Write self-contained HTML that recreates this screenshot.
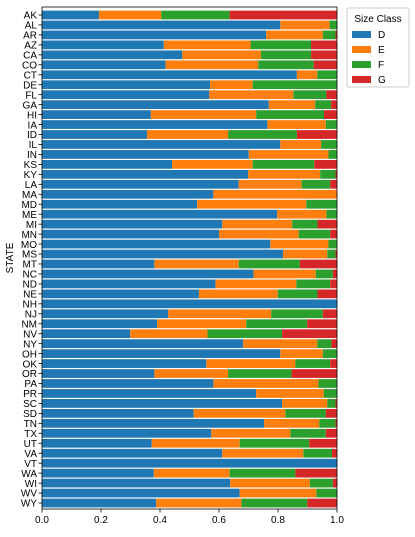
<!DOCTYPE html>
<html><head><meta charset="utf-8"><style>
body{margin:0;background:#fff;font-family:"Liberation Sans","DejaVu Sans",sans-serif}
svg text{font-family:"Liberation Sans","DejaVu Sans",sans-serif}
</style></head><body>
<svg id="chart" width="415" height="532"></svg>
<script>
const states=["AK","AL","AR","AZ","CA","CO","CT","DE","FL","GA","HI","IA","ID","IL","IN","KS","KY","LA","MA","MD","ME","MI","MN","MO","MS","MT","NC","ND","NE","NH","NJ","NM","NV","NY","OH","OK","OR","PA","PR","SC","SD","TN","TX","UT","VA","VT","WA","WI","WV","WY"];
const seriesD=[.193,.808,.76,.413,.475,.419,.864,.57,.567,.769,.369,.764,.356,.808,.701,.441,.699,.667,.581,.526,.797,.611,.6,.774,.817,.381,.717,.588,.532,1,.428,.39,.299,.682,.808,.557,.381,.581,.726,.814,.514,.753,.574,.372,.611,1,.379,.638,.67,.387];
const seriesE=[.211,.167,.192,.294,.267,.314,.069,.144,.285,.157,.357,.198,.275,.138,.27,.273,.244,.213,.419,.37,.167,.237,.27,.197,.15,.286,.211,.274,.267,0,.349,.302,.262,.251,.144,.302,.25,.356,.229,.153,.311,.187,.268,.298,.275,0,.257,.27,.26,.289];
const seriesF=[.232,.025,.043,.205,.17,.188,.067,.286,.112,.054,.23,.038,.233,.054,.029,.209,.052,.097,0,.104,.036,.086,.107,.029,.028,.207,.058,.115,.135,0,.175,.207,.253,.048,.048,.118,.215,.063,.045,.028,.137,.055,.12,.236,.097,0,.223,.078,.07,.223];
const seriesG=[.364,0,.005,.088,.088,.079,0,0,.036,.02,.044,0,.136,0,0,.077,.005,.023,0,0,0,.066,.023,0,.005,.126,.014,.023,.066,0,.048,.101,.186,.019,0,.023,.154,0,0,.005,.038,.005,.038,.094,.017,0,.141,.014,0,.101];
const classes=["D","E","F","G"];
const xTicks=[0,0.2,0.4,0.6,0.8,1.0];
const colors=["#1f77b4","#ff7f0e","#2ca02c","#d62728"];
const NS="http://www.w3.org/2000/svg";
const svg=document.getElementById("chart");
const L=42,R=337,T=7,B=509;
const xs=v=>L+v*(R-L);
const first=15,last=503;
const pitch=(last-first)/(states.length-1);
const yc=i=>first+i*pitch;
function mk(tag,attrs,parent){const e=document.createElementNS(NS,tag);for(const k in attrs)e.setAttribute(k,attrs[k]);(parent||svg).appendChild(e);return e;}
const all=[seriesD,seriesE,seriesF,seriesG];
const bh=pitch*0.88;
states.forEach((s,i)=>{
  let cum=0;
  all.forEach((ser,k)=>{
    const v=ser[i];
    if(v>0){
      const r=mk("rect",{x:xs(cum),y:yc(i)-bh/2,width:xs(cum+v)-xs(cum),height:bh,fill:colors[k]});
      
      
    }
    cum+=v;
  });
  mk("line",{x1:L-3.5,x2:L,y1:yc(i),y2:yc(i),stroke:"#000","stroke-width":0.8});
  const t=mk("text",{x:L-5,y:yc(i)+3.7,"text-anchor":"end","font-size":10,fill:"#000"});
  t.textContent=s;
  
  
});
xTicks.forEach(v=>{
  mk("line",{x1:xs(v),x2:xs(v),y1:B,y2:B+3.5,stroke:"#000","stroke-width":0.8});
  const t=mk("text",{x:xs(v),y:B+14,"text-anchor":"middle","font-size":10,fill:"#000"});
  t.textContent=v.toFixed(1);
  
  
});
const frame=mk("rect",{x:L,y:T,width:R-L,height:B-T,fill:"none",stroke:"#000","stroke-width":0.8});


const yl=mk("text",{x:13,y:(T+B)/2,"text-anchor":"middle","font-size":10,transform:"rotate(-90 13 "+((T+B)/2)+")"});
yl.textContent="STATE";


const lg=mk("g",{});


mk("rect",{x:347,y:8,width:62,height:79,rx:2,fill:"#fff",stroke:"#ccc","stroke-width":1},lg);
const lt=mk("text",{x:378,y:22,"text-anchor":"middle","font-size":10},lg);
lt.textContent="Size Class";


classes.forEach((c,k)=>{
  const y=31+k*15;
  mk("rect",{x:352,y:y,width:19,height:7,fill:colors[k]},lg);
  const t=mk("text",{x:378,y:y+7,"font-size":10},lg);
  t.textContent=c;
  
  
});
</script>
</body></html>
